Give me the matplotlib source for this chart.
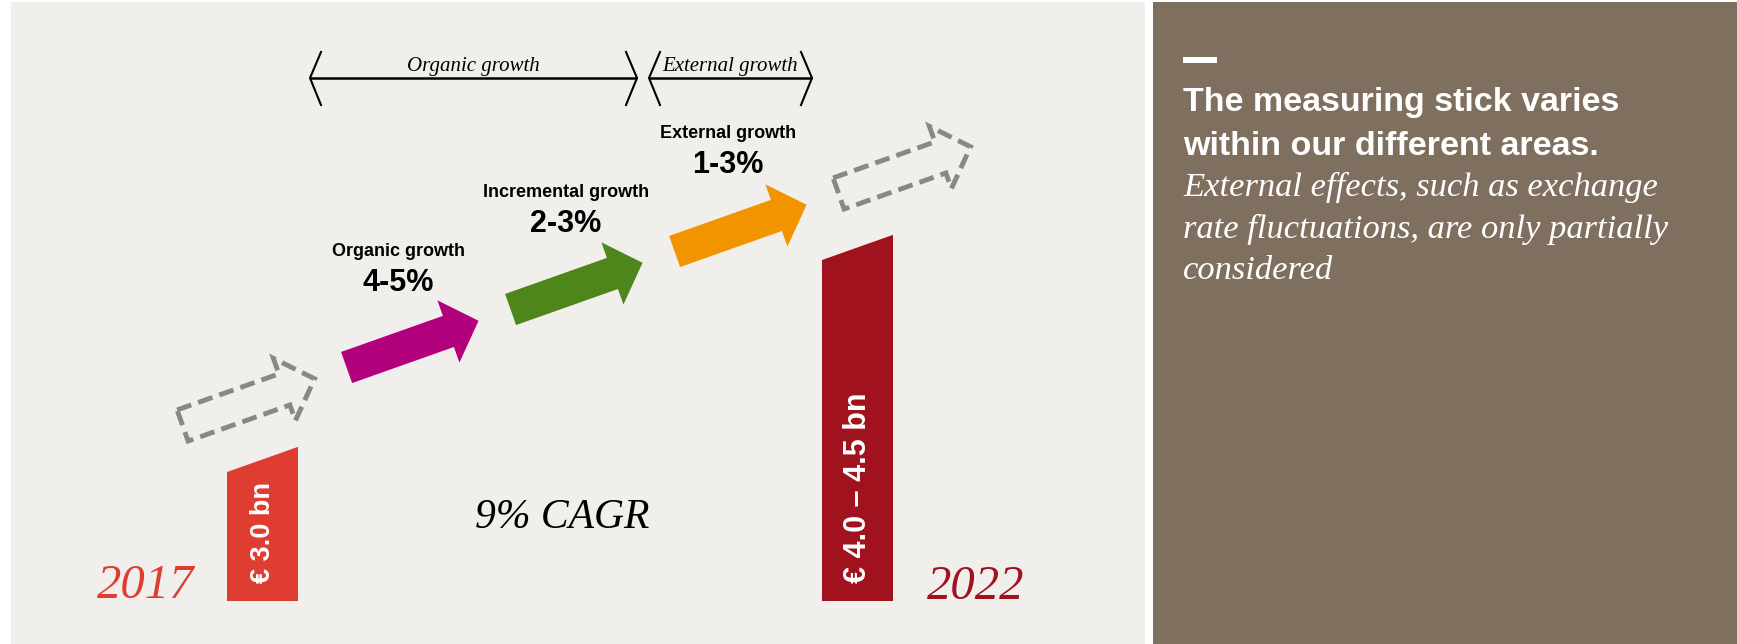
import numpy as np
import matplotlib
matplotlib.use('Agg')
import matplotlib.pyplot as plt
from matplotlib.patches import Polygon, Rectangle

# Content
years = ["2017", "2022"]
revenue_labels = ["€ 3.0 bn", "€ 4.0 – 4.5 bn"]
growth_names = ["Organic growth", "Incremental growth", "External growth"]
growth_rates = ["4-5%", "2-3%", "1-3%"]
bracket_names = ["Organic growth", "External growth"]
cagr_label = "9% CAGR"
note_title = ["The measuring stick varies", "within our different areas."]
note_body = ["External effects, such as exchange",
             "rate fluctuations, are only partially",
             "considered"]

# Colours
BG_LEFT = '#F0EFEB'
BG_RIGHT = '#7F6F5F'
YEAR_COLORS = ['#E03D32', '#A0121D']
ARROW_COLORS = ['#B3007D', '#4F861C', '#F29400']
DASH_GREY = '#888888'

SANS = 'Liberation Sans'
SERIF = 'Liberation Serif'

W, H = 1737, 644
fig = plt.figure(figsize=(W / 100, H / 100), dpi=100, facecolor='white')
ax = fig.add_axes([0, 0, 1, 1])
ax.set_xlim(0, W)
ax.set_ylim(H, 0)
ax.axis('off')

# two panels
ax.add_patch(Rectangle((11, 2), 1134, H - 2, color=BG_LEFT, lw=0))
ax.add_patch(Rectangle((1153, 2), W - 1153, H - 2, color=BG_RIGHT, lw=0))

# staircase of arrows
ANG = np.deg2rad(19.5)
START = np.array([182.6, 425.5])
STEP = np.array([164.0, -58.0])
shape_uv = np.array([(0, -16.5), (108, -16.5), (108, -33), (140, 0),
                     (108, 33), (108, 16.5), (0, 16.5)])


def arrow_pts(center):
    u = np.array([np.cos(ANG), -np.sin(ANG)])
    v = np.array([np.sin(ANG), np.cos(ANG)])
    return np.array([center + a * u + b * v for a, b in shape_uv])


for i in range(5):
    pts = arrow_pts(START + i * STEP)
    if i in (0, 4):
        ax.add_patch(Polygon(pts, closed=True, facecolor='none', edgecolor=DASH_GREY,
                             lw=3.5, linestyle=(0, (3.1, 1.5)), joinstyle='miter'))
    else:
        ax.add_patch(Polygon(pts, closed=True, facecolor=ARROW_COLORS[i - 1], lw=0))

# start / end bars with a slanted top
bar_left = [227, 822]
bar_width = 71
bar_height = [129, 341]
BASE = 601
slope = np.tan(ANG)
label_size = [19.5, 22]
for k in range(2):
    x0, x1 = bar_left[k], bar_left[k] + bar_width
    top_l = BASE - bar_height[k]
    top_r = top_l - bar_width * slope
    ax.add_patch(Polygon([(x0, BASE), (x0, top_l), (x1, top_r), (x1, BASE)],
                         closed=True, facecolor=YEAR_COLORS[k], lw=0))
    ax.text((x0 + x1) / 2 + 1, 583, revenue_labels[k], rotation=90, ha='center', va='bottom',
            color='white', fontsize=label_size[k], fontweight='bold', family=SANS)

ax.text(146, 598, years[0], ha='center', va='baseline', color=YEAR_COLORS[0],
        fontsize=35, style='italic', family=SERIF)
ax.text(976, 599, years[1], ha='center', va='baseline', color=YEAR_COLORS[1],
        fontsize=35, style='italic', family=SERIF)
ax.text(562, 528, cagr_label, ha='center', va='baseline', color='black',
        fontsize=30, style='italic', family=SERIF)

# step labels
label_x = [398, 566, 728]
label_base = [256, 197, 138]
for name, rate, x, yb in zip(growth_names, growth_rates, label_x, label_base):
    ax.text(x, yb, name, ha='center', va='baseline', fontsize=13,
            fontweight='bold', family=SANS, color='black')
    ax.text(x, yb + 35, rate, ha='center', va='baseline', fontsize=22,
            fontweight='bold', family=SANS, color='black')

# brackets over the phases
spans = [(310, 637), (649, 812)]
BY = 78
for name, (xa, xb) in zip(bracket_names, spans):
    ax.plot([xa, xb], [BY, BY], color='black', lw=1.8, solid_capstyle='butt')
    ax.plot([xa + 11, xa, xa + 11], [BY - 26, BY, BY + 27], color='black', lw=1.5)
    ax.plot([xb - 11, xb, xb - 11], [BY - 26, BY, BY + 27], color='black', lw=1.5)
    ax.text((xa + xb) / 2, 71, name, ha='center', va='baseline', fontsize=15,
            style='italic', family=SERIF, color='black')

# side note
ax.add_patch(Rectangle((1183, 57), 34, 5.5, color='white', lw=0))
for j, line in enumerate(note_title):
    ax.text(1183, 111 + 44 * j, line, ha='left', va='baseline', color='white',
            fontsize=24.5, fontweight='bold', family=SANS)
for j, line in enumerate(note_body):
    ax.text(1183, 196 + 41.5 * j, line, ha='left', va='baseline', color='white',
            fontsize=24.8, style='italic', family=SERIF)

fig.savefig('out.png', dpi=100, facecolor='white')
plt.close(fig)
